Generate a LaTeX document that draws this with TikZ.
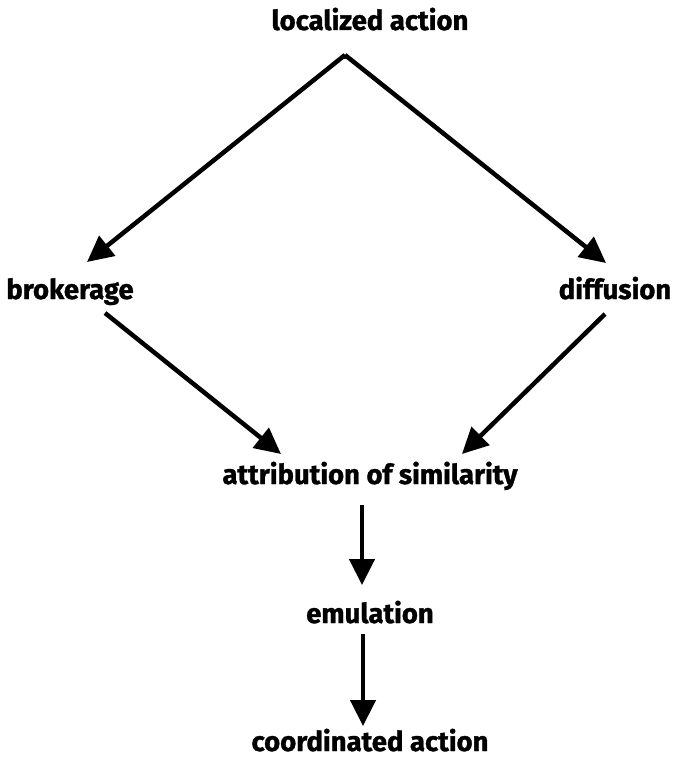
\documentclass[tikz,border=0pt]{standalone}
\usepackage{fontspec}
\setmainfont{Fira Sans}[BoldFeatures={FakeBold=1.2}]
\usetikzlibrary{arrows.meta}
\begin{document}
\begin{tikzpicture}[x=1pt,y=-1pt,
  lbl/.style={font=\bfseries\fontsize{27.5}{30}\selectfont, inner sep=0pt, anchor=base},
  arr/.style={line width=4.5pt, -{Triangle[length=26pt,width=25pt]}}]
\useasboundingbox (0,0) rectangle (687,760);
\node[lbl] (loc) at (370,30) {localized action};
\node[lbl] (bro) at (70,299) {brokerage};
\node[lbl] (dif) at (615,299) {diffusion};
\node[lbl] (att) at (370,484) {attribution of similarity};
\node[lbl] (emu) at (370,623) {emulation};
\node[lbl] (coo) at (370,751) {coordinated action};
\coordinate (apex) at (345,55);
\coordinate (btip) at (87,262);
\coordinate (dtip) at (606,263);
\coordinate (bs) at (105,313);
\coordinate (ds) at (605,314);
\coordinate (bt) at (281,454);
\coordinate (dt) at (462,454);
\coordinate (a1) at (362,505);
\coordinate (a2) at (362,585);
\coordinate (e1) at (363,634);
\coordinate (e2) at (363,726);
\draw[arr] (apex) -- (btip);
\draw[arr] (apex) -- (dtip);
\draw[line width=4.5pt] ([shift={(-2.5,2)}]apex) -- ([shift={(2.5,2)}]apex);
\draw[arr] (bs) -- (bt);
\draw[arr] (ds) -- (dt);
\draw[arr] (a1) -- (a2);
\draw[arr] (e1) -- (e2);
\end{tikzpicture}
\end{document}
